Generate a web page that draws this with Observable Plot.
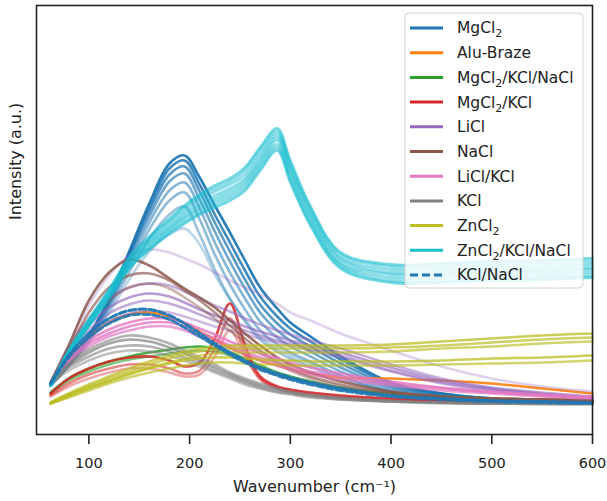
<!DOCTYPE html>
<html><head><meta charset="utf-8">
<script src="https://cdn.jsdelivr.net/npm/d3@7"></script>
<script src="https://cdn.jsdelivr.net/npm/@observablehq/plot@0.6"></script>
<style>body{margin:0;background:#fff}</style>
</head><body><div id="chart"></div>
<script>
// Wavenumber grid (cm^-1)
const W = [62, 80, 100, 120, 140, 160, 180, 195, 210, 225, 240, 255, 270, 287, 300, 320, 350, 400, 450, 500, 550, 600];

// Intensities (a.u.), one array per spectrum
const mgcl2 = [
  [49, 72, 99, 136, 183, 231, 271, 279, 257, 229, 202, 174, 147, 126, 112, 98, 78, 52, 41, 36, 33, 32],
  [49, 72, 99, 135, 181, 227, 266, 274, 250, 220, 192, 164, 138, 118, 106, 93, 75, 51, 41, 36, 33, 32],
  [49, 71, 98, 134, 179, 223, 260, 268, 243, 212, 183, 155, 130, 111, 100, 88, 71, 49, 40, 35, 33, 32],
  [49, 71, 97, 132, 176, 218, 253, 261, 235, 203, 173, 146, 122, 104, 94, 83, 67, 47, 39, 35, 33, 32],
  [49, 70, 96, 130, 172, 212, 244, 252, 226, 192, 162, 136, 113, 97, 88, 78, 63, 45, 38, 34, 32, 31],
  [49, 70, 95, 128, 168, 205, 234, 242, 215, 180, 150, 125, 104, 90, 82, 73, 59, 43, 37, 34, 32, 31],
  [49, 69, 93, 125, 162, 196, 220, 228, 200, 165, 136, 113, 95, 83, 76, 68, 56, 42, 36, 33, 32, 31],
  [49, 68, 91, 121, 155, 183, 200, 206, 190, 160, 135, 115, 98, 86, 79, 71, 58, 43, 37, 34, 32, 31]
];
const aluBraze = [
  [50, 76, 97, 112, 120, 122, 118, 111, 103, 95, 87, 80, 74, 69, 65, 61, 57, 56, 54, 51, 46, 41]
];
const mgcl2KclNacl = [
  [42, 56, 66, 73, 78, 82, 85, 87, 88, 86, 82, 76, 69, 62, 58, 53, 47, 41, 38, 36, 35, 34],
  [41, 54, 63, 70, 75, 78, 81, 83, 84, 83, 79, 73, 66, 60, 56, 51, 45, 40, 37, 35, 34, 33]
];
const mgcl2Kcl = [
  [41, 56, 66, 73, 77, 78, 74, 68, 72, 96, 131, 89, 58, 48, 45, 42, 39, 36, 34, 33, 33, 33],
  [39, 51, 60, 66, 70, 70, 66, 61, 64, 86, 116, 82, 56, 47, 44, 41, 38, 35, 34, 33, 33, 33],
  [38, 48, 56, 62, 66, 66, 62, 58, 60, 78, 104, 78, 55, 46, 43, 40, 37, 35, 33, 33, 32, 32]
];
const licl = [
  [51, 89, 129, 159, 179, 185, 182, 176, 170, 162, 154, 147, 140, 131, 122, 114, 101, 84, 68, 56, 48, 43],
  [51, 88, 116, 136, 147, 151, 149, 143, 136, 129, 123, 116, 110, 104, 100, 94, 86, 70, 56, 47, 42, 38],
  [51, 84, 109, 127, 137, 141, 138, 132, 125, 119, 114, 108, 103, 98, 94, 89, 82, 67, 54, 46, 41, 37],
  [51, 82, 104, 121, 130, 134, 131, 126, 120, 114, 109, 104, 99, 94, 91, 86, 79, 64, 52, 45, 40, 36],
  [51, 78, 98, 113, 121, 124, 122, 118, 113, 108, 104, 100, 96, 92, 89, 84, 77, 63, 51, 44, 39, 35]
];
const nacl = [
  [52, 89, 134, 162, 175, 169, 156, 146, 137, 127, 114, 101, 89, 77, 70, 62, 53, 43, 38, 36, 35, 34],
  [52, 84, 122, 147, 159, 161, 154, 144, 134, 122, 109, 96, 84, 73, 66, 58, 50, 42, 38, 36, 35, 34],
  [51, 79, 112, 134, 147, 151, 146, 137, 127, 116, 104, 92, 81, 71, 64, 56, 48, 41, 37, 36, 35, 34]
];
const liclKcl = [
  [50, 76, 94, 105, 112, 116, 116, 112, 106, 100, 93, 87, 81, 76, 72, 67, 61, 53, 47, 43, 40, 38],
  [50, 74, 91, 101, 108, 112, 112, 108, 102, 96, 89, 83, 77, 72, 68, 63, 58, 51, 46, 42, 39, 37],
  [50, 72, 88, 98, 104, 108, 108, 104, 98, 92, 86, 80, 74, 69, 65, 60, 55, 49, 44, 41, 38, 36]
];
const kcl = [
  [50, 71, 85, 94, 99, 97, 91, 84, 77, 70, 62, 56, 51, 46, 43, 40, 37, 34, 32, 31, 31, 31],
  [50, 69, 82, 91, 95, 93, 87, 81, 74, 67, 60, 54, 49, 45, 42, 39, 36, 33, 32, 31, 31, 31],
  [50, 67, 78, 86, 89, 88, 83, 77, 71, 64, 58, 52, 47, 43, 41, 38, 35, 33, 32, 31, 31, 31],
  [50, 64, 74, 81, 84, 83, 79, 74, 68, 62, 56, 50, 46, 42, 40, 37, 35, 33, 31, 31, 30, 30]
];
const zncl2 = [
  [32, 41, 50, 58, 66, 73, 79, 83, 86, 88, 89, 89, 89, 89, 89, 89, 89, 90, 93, 96, 99, 101],
  [32, 40, 48, 56, 63, 70, 76, 80, 83, 85, 86, 86, 86, 86, 86, 86, 86, 87, 89, 92, 95, 97],
  [31, 39, 47, 54, 61, 67, 72, 76, 79, 81, 82, 82, 82, 82, 82, 82, 82, 83, 86, 88, 91, 93],
  [31, 38, 46, 53, 60, 66, 71, 74, 76, 77, 77, 76, 75, 74, 74, 73, 73, 73, 74, 76, 77, 79],
  [31, 37, 44, 51, 57, 62, 66, 69, 71, 72, 72, 71, 70, 70, 69, 69, 69, 69, 70, 71, 72, 74]
];
const zncl2KclNacl = [
  [49, 84, 115, 145, 177, 198, 216, 229, 240, 249, 256, 267, 287, 306, 274, 228, 182, 170, 171, 173, 174, 176],
  [49, 84, 114, 144, 176, 196, 214, 227, 238, 246, 253, 264, 284, 303, 271, 226, 180, 168, 168, 170, 171, 173],
  [49, 83, 113, 143, 174, 194, 212, 224, 235, 243, 250, 260, 280, 300, 268, 223, 177, 165, 165, 167, 168, 170],
  [49, 82, 112, 141, 172, 192, 209, 221, 231, 239, 246, 256, 276, 297, 265, 220, 175, 162, 162, 164, 165, 167],
  [49, 82, 111, 140, 170, 190, 207, 218, 228, 236, 243, 253, 273, 294, 262, 217, 172, 160, 160, 162, 163, 165],
  [49, 81, 110, 139, 169, 188, 205, 216, 225, 233, 240, 250, 270, 290, 258, 214, 170, 157, 157, 159, 160, 162],
  [49, 80, 109, 137, 167, 186, 203, 213, 222, 230, 237, 247, 267, 287, 255, 211, 168, 154, 154, 156, 157, 159],
  [49, 80, 108, 136, 166, 185, 201, 211, 220, 227, 234, 244, 264, 284, 252, 209, 166, 152, 152, 154, 155, 157]
];
const kclNacl = [
  [51, 79, 101, 116, 124, 125, 119, 111, 101, 91, 82, 74, 67, 61, 57, 52, 46, 39, 36, 34, 33, 32],
  [51, 77, 97, 111, 119, 120, 115, 107, 98, 89, 80, 72, 65, 59, 55, 50, 44, 38, 35, 33, 32, 31]
];

const xTicks = [100, 200, 300, 400, 500, 600];

// Series (legend order = drawing order)
const series = [
  {label: ["MgCl", "2", ""], color: "#1f77b4", curves: mgcl2, opac: [0.95, 0.85, 0.75, 0.65, 0.55, 0.5, 0.45, 0.3]},
  {label: ["Alu-Braze"], color: "#ff7f0e", curves: aluBraze, opac: [0.9]},
  {label: ["MgCl", "2", "/KCl/NaCl"], color: "#2ca02c", curves: mgcl2KclNacl, opac: [0.85, 0.6]},
  {label: ["MgCl", "2", "/KCl"], color: "#d62728", curves: mgcl2Kcl, opac: [0.85, 0.55, 0.4]},
  {label: ["LiCl"], color: "#9467bd", curves: licl, opac: [0.3, 0.55, 0.65, 0.55, 0.45]},
  {label: ["NaCl"], color: "#8c564b", curves: nacl, opac: [0.85, 0.65, 0.45]},
  {label: ["LiCl/KCl"], color: "#e377c2", curves: liclKcl, opac: [0.8, 0.8, 0.7]},
  {label: ["KCl"], color: "#7f7f7f", curves: kcl, opac: [0.6, 0.7, 0.6, 0.5]},
  {label: ["ZnCl", "2", ""], color: "#bcbd22", curves: zncl2, opac: [0.75, 0.7, 0.65, 0.75, 0.65]},
  {label: ["ZnCl", "2", "/KCl/NaCl"], color: "#17becf", curves: zncl2KclNacl, opac: [0.6, 0.5, 0.5, 0.5, 0.5, 0.5, 0.5, 0.6], width: 2.8},
  {label: ["KCl/NaCl"], color: "#1f77b4", curves: kclNacl, opac: [0.95, 0.9], dash: "7,3", width: 3}
];

const marks = [];
for (const s of series) {
  s.curves.forEach((c, i) => {
    const rows = W.map((w, j) => ({w, v: c[j]}));
    marks.push(Plot.line(rows, {
      x: "w", y: "v", stroke: s.color, strokeOpacity: s.opac[i],
      strokeWidth: s.width || 2.6, strokeDasharray: s.dash, curve: "catmull-rom"
    }));
  });
}

const chart = Plot.plot({
  width: 607, height: 501,
  marginLeft: 36, marginRight: 15, marginTop: 5, marginBottom: 67,
  style: {fontFamily: "DejaVu Sans", fontSize: "14.5px", color: "#222", background: "#fff"},
  x: {domain: [48, 600], ticks: xTicks, tickSize: 10, tickPadding: 13, label: null},
  y: {domain: [0, 429], axis: null},
  marks: [
    ...marks,
    Plot.frame({stroke: "#222", strokeWidth: 1.6}),
    Plot.text(["Intensity (a.u.)"], {text: d => d, frameAnchor: "left", dx: -21, rotate: -90, fontSize: 16, fill: "#222"}),
    Plot.text(["Wavenumber (cm⁻¹)"], {text: d => d, frameAnchor: "bottom", dy: 57, fontSize: 16, fill: "#222"})
  ]
});
document.getElementById("chart").appendChild(chart);

const svg = d3.select(chart);
svg.selectAll('g[aria-label="x-axis tick"]').attr("stroke-width", 1.6);

// Legend
const lg = svg.append("g").attr("font-family", "DejaVu Sans").attr("font-size", 15.5).attr("text-anchor", "start");
lg.append("rect").attr("x", 405).attr("y", 13).attr("width", 178).attr("height", 275)
  .attr("rx", 4).attr("fill", "#fff").attr("fill-opacity", 0.8).attr("stroke", "#d3d3d3");
series.forEach((s, i) => {
  const y = 28 + i * 24.7;
  lg.append("line").attr("x1", 410).attr("x2", 443).attr("y1", y).attr("y2", y)
    .attr("stroke", s.color).attr("stroke-width", 3)
    .attr("stroke-dasharray", s.dash ? "8,4" : null);
  const t = lg.append("text").attr("x", 457).attr("y", y).attr("dy", "0.35em").attr("fill", "#222").attr("text-anchor", "start");
  t.append("tspan").text(s.label[0]);
  if (s.label.length > 1) {
    t.append("tspan").attr("dy", 4).attr("font-size", 11).text(s.label[1]);
    if (s.label[2]) t.append("tspan").attr("dy", -4).text(s.label[2]);
  }
});
</script>
</body></html>
